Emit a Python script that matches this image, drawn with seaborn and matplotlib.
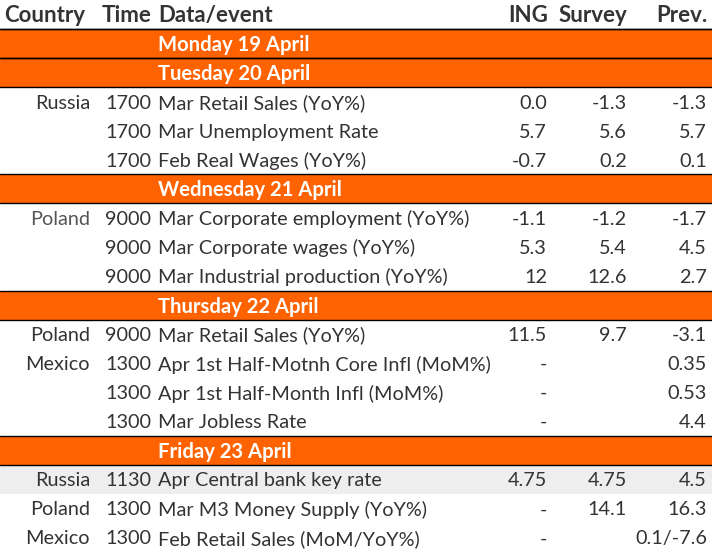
import numpy as np
import pandas as pd
import matplotlib
matplotlib.use("Agg")
import matplotlib.pyplot as plt
import matplotlib.transforms as mtransforms
from matplotlib.colors import ListedColormap
import seaborn as sns

sns.set_theme(style="white")
plt.rcParams["font.family"] = ["Lato", "DejaVu Sans"]

# ---------- Table data ----------
header = ["Country", "Time", "Data/event", "ING", "Survey", "Prev."]

# kind: 0 = normal row, 1 = day band, 2 = shaded row
row_kind = [1, 1, 0, 0, 0, 1, 0, 0, 0, 1, 0, 0, 0, 0, 1, 2, 0, 0]

countries = ["", "", "Russia", "", "", "", "Poland", "", "", "",
             "Poland", "Mexico", "", "", "", "Russia", "Poland", "Mexico"]
times = ["", "", "1700", "1700", "1700", "", "9000", "9000", "9000", "",
         "9000", "1300", "1300", "1300", "", "1130", "1300", "1300"]
events = [
    "Monday 19 April",
    "Tuesday 20 April",
    "Mar Retail Sales (YoY%)",
    "Mar Unemployment Rate",
    "Feb Real Wages (YoY%)",
    "Wednesday 21 April",
    "Mar Corporate employment (YoY%)",
    "Mar Corporate wages (YoY%)",
    "Mar Industrial production (YoY%)",
    "Thursday 22 April",
    "Mar Retail Sales (YoY%)",
    "Apr 1st Half-Motnh Core Infl (MoM%)",
    "Apr 1st Half-Month Infl (MoM%)",
    "Mar Jobless Rate",
    "Friday 23 April",
    "Apr Central bank key rate",
    "Mar M3 Money Supply (YoY%)",
    "Feb Retail Sales (MoM/YoY%)",
]
ing = ["", "", "0.0", "5.7", "-0.7", "", "-1.1", "5.3", "12", "",
       "11.5", "-", "-", "-", "", "4.75", "-", "-"]
survey = ["", "", "-1.3", "5.6", "0.2", "", "-1.2", "5.4", "12.6", "",
          "9.7", "", "", "", "", "4.75", "14.1", ""]
prev = ["", "", "-1.3", "5.7", "0.1", "", "-1.7", "4.5", "2.7", "",
        "-3.1", "0.35", "0.53", "4.4", "", "4.5", "16.3", "0.1/-7.6"]

df = pd.DataFrame({
    "kind": row_kind, "country": countries, "time": times,
    "event": events, "ing": ing, "survey": survey, "prev": prev,
})

ORANGE = "#FF6200"
SHADE = "#EEEEEE"
TEXT = "#333333"

# ---------- Figure ----------
fig = plt.figure(figsize=(7.12, 5.52), dpi=100)
ax = fig.add_axes([0, 0, 1, 1])

# background colours: header row + body rows through a heatmap
kinds = np.array([0] + row_kind).reshape(-1, 1)
sns.heatmap(kinds, ax=ax, cmap=ListedColormap(["white", ORANGE, SHADE]),
            vmin=-0.5, vmax=2.5, cbar=False, xticklabels=False,
            yticklabels=False, linewidths=0)
ax.set_xlim(0, 1)
ax.set_ylim(len(kinds), 0)
ax.axis("off")

trans = mtransforms.blended_transform_factory(ax.transAxes, ax.transData)
W = 712.0
FS = 14.3      # body text
FS_HEAD = 16   # column header
FS_DAY = 14.6  # day bands

# header
hy = 0.55
ax.text(4 / W, hy, header[0], transform=trans, ha="left", va="center",
        fontsize=FS_HEAD, fontweight="bold", color=TEXT)
ax.text(152 / W, hy, header[1], transform=trans, ha="right", va="center",
        fontsize=FS_HEAD, fontweight="bold", color=TEXT)
ax.text(158 / W, hy, header[2], transform=trans, ha="left", va="center",
        fontsize=FS_HEAD, fontweight="bold", color=TEXT)
for label, xr in zip(header[3:], [548, 627, 708]):
    ax.text(xr / W, hy, label, transform=trans, ha="right", va="center",
            fontsize=FS_HEAD, fontweight="bold", color=TEXT)
ax.axhline(1, color="black", lw=1.0)

# body
for i, row in df.iterrows():
    y = i + 1.55
    if row["kind"] == 1:
        ax.text(158 / W, y, row["event"], transform=trans, ha="left",
                va="center", fontsize=FS_DAY, fontweight="bold", color="white")
        ax.axhline(i + 1, color="black", lw=1.0)
        ax.axhline(i + 2, color="black", lw=1.0)
        continue
    ccol = "#555555" if i == 6 else TEXT
    ax.text(90 / W, y, row["country"], transform=trans, ha="right",
            va="center", fontsize=FS, color=ccol)
    ax.text(151 / W, y, row["time"], transform=trans, ha="right",
            va="center", fontsize=FS, color=TEXT)
    ax.text(158 / W, y, row["event"], transform=trans, ha="left",
            va="center", fontsize=FS, color=TEXT)
    for col, xr in zip(["ing", "survey", "prev"], [547, 627, 707]):
        ax.text(xr / W, y, row[col], transform=trans, ha="right",
                va="center", fontsize=FS, color=TEXT)

fig.savefig("out.png", dpi=100)
